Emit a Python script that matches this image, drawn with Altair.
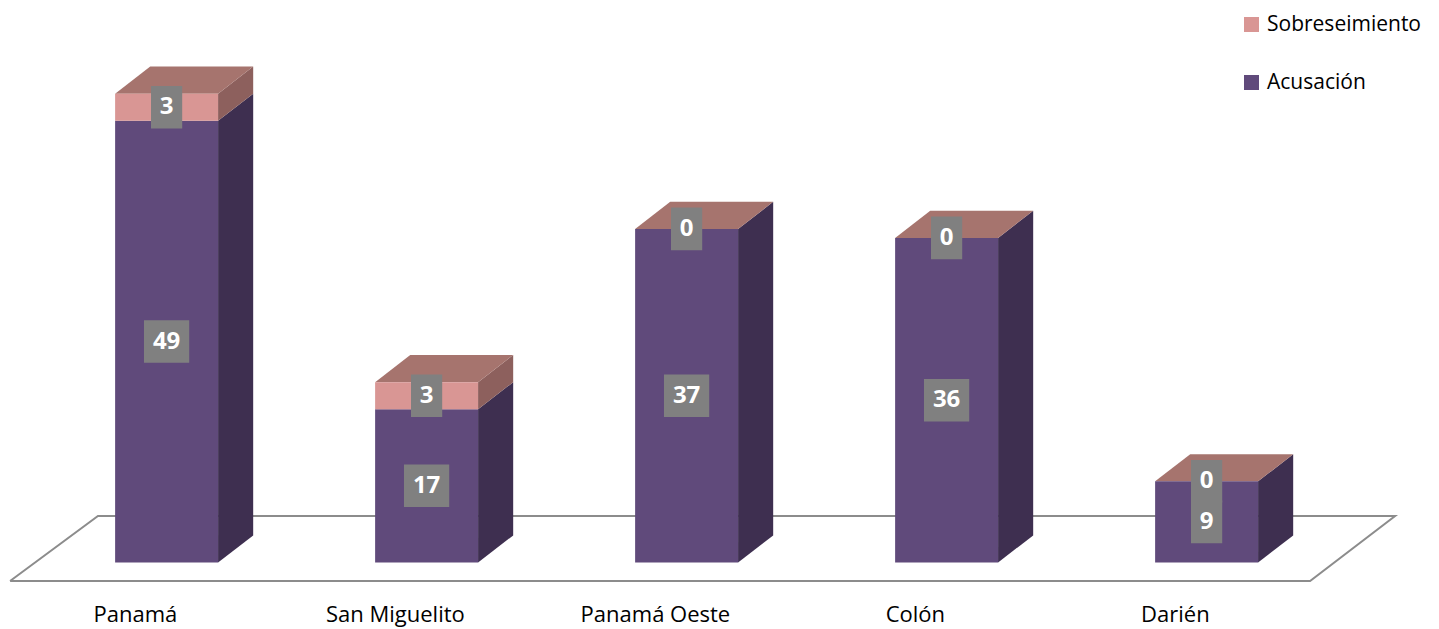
import altair as alt
import pandas as pd

# ---- data ----
categories = ["Panamá", "San Miguelito", "Panamá Oeste", "Colón", "Darién"]
acusacion = [49, 17, 37, 36, 9]
sobreseimiento = [3, 3, 0, 0, 0]
series_order = ["Sobreseimiento", "Acusación"]

# ---- style constants ----
HW = 0.198          # half bar width (category units)
DX = 0.135          # 3D depth, x (category units)
DY = 3.0            # 3D depth, y (value units)
W, H = 1423, 621
X_DOMAIN = [-0.61, -0.61 + W / 260]
Y_DOMAIN = [-7.38, 61.5]
FONT = "Open Sans"

FRONT = {"Acusación": "#604A7B", "Sobreseimiento": "#D99694"}
SIDE = {"Acusación": "#3E2F50", "Sobreseimiento": "#8D605D"}
TOP = "#A6746E"
FLOOR_COLOR = "#8C8C8C"
BOX = "#808080"

xs = alt.Scale(domain=X_DOMAIN, nice=False, zero=False)
ys = alt.Scale(domain=Y_DOMAIN, nice=False, zero=False)

# segments
seg_rows = []
for i, (c, a, s) in enumerate(zip(categories, acusacion, sobreseimiento)):
    seg_rows.append(dict(i=i, cat=c, series="Acusación", y0=0, y1=a, value=a))
    seg_rows.append(dict(i=i, cat=c, series="Sobreseimiento", y0=a, y1=a + s, value=s))
seg = pd.DataFrame(seg_rows)
seg["xl"] = seg["i"] - HW
seg["xr"] = seg["i"] + HW

# side faces (vertical areas, two x points per segment)
side_rows = []
for r in seg_rows:
    key = f"{r['i']}-{r['series']}"
    side_rows.append(dict(key=key, x=r["i"] + HW, y=r["y0"], y2=r["y1"], col=SIDE[r["series"]]))
    side_rows.append(dict(key=key, x=r["i"] + HW + DX, y=r["y0"] + DY, y2=r["y1"] + DY, col=SIDE[r["series"]]))
side = pd.DataFrame(side_rows)

# top faces (horizontal areas)
top_rows = []
for i, (a, s) in enumerate(zip(acusacion, sobreseimiento)):
    t = a + s
    top_rows.append(dict(key=i, y=t, x=i - HW, x2=i + HW))
    top_rows.append(dict(key=i, y=t + DY, x=i - HW + DX, x2=i + HW + DX))
top = pd.DataFrame(top_rows)

# floor outline (derived from category extent)
n = len(categories)
floor = pd.DataFrame([
    dict(o=0, x=-0.602, y=-2.06),
    dict(o=1, x=-0.264, y=5.15),
    dict(o=2, x=(n - 1) + 0.725, y=5.15),
    dict(o=3, x=(n - 1) + 0.398, y=-2.06),
    dict(o=4, x=-0.602, y=-2.06),
])

# value labels
lab = seg.copy()
lab["ly"] = (lab["y0"] + lab["y1"]) / 2
lab["txt"] = lab["value"].astype(str)
lab["hw"] = lab["txt"].str.len().map({1: 0.06, 2: 0.087})
lab["bx0"] = lab["i"] - lab["hw"]
lab["bx1"] = lab["i"] + lab["hw"]
lab["by0"] = lab["ly"] - 2.36
lab["by1"] = lab["ly"] + 2.36

cats = pd.DataFrame(dict(i=range(n), cat=categories))
cats["x"] = cats["i"] - 0.12
cats["y"] = -5.83

floor_l = alt.Chart(floor).mark_line(color=FLOOR_COLOR, strokeWidth=2).encode(
    x=alt.X("x:Q", scale=xs, axis=None), y=alt.Y("y:Q", scale=ys, axis=None), order="o:Q")

side_l = alt.Chart(side).mark_area(orient="vertical").encode(
    x=alt.X("x:Q", scale=xs, axis=None), y=alt.Y("y:Q", scale=ys, axis=None), y2="y2:Q",
    detail="key:N", color=alt.Color("col:N", scale=None))

top_l = alt.Chart(top).mark_area(orient="horizontal", color=TOP).encode(
    y=alt.Y("y:Q", scale=ys, axis=None), x=alt.X("x:Q", scale=xs, axis=None), x2="x2:Q",
    detail="key:N")

front_l = alt.Chart(seg).mark_rect().encode(
    x=alt.X("xl:Q", scale=xs, axis=None), x2="xr:Q",
    y=alt.Y("y0:Q", scale=ys, axis=None), y2="y1:Q",
    color=alt.Color("series:N", sort=series_order,
                    scale=alt.Scale(domain=series_order,
                                    range=[FRONT["Sobreseimiento"], FRONT["Acusación"]]),
                    legend=alt.Legend(title=None, orient="none", legendX=1233, legendY=6,
                                      symbolType="square", symbolSize=225,
                                      symbolStrokeWidth=0, labelFontSize=21,
                                      labelFont=FONT, labelColor="#000000",
                                      labelLimit=400,
                                      rowPadding=36, labelOffset=5)))

box_l = alt.Chart(lab).mark_rect(color=BOX).encode(
    x=alt.X("bx0:Q", scale=xs, axis=None), x2="bx1:Q",
    y=alt.Y("by0:Q", scale=ys, axis=None), y2="by1:Q")

txt_l = alt.Chart(lab).mark_text(color="white", fontWeight="bold", fontSize=24,
                                 font=FONT, baseline="middle", align="center").encode(
    x=alt.X("i:Q", scale=xs, axis=None), y=alt.Y("ly:Q", scale=ys, axis=None), text="txt:N")

cat_l = alt.Chart(cats).mark_text(fontSize=22, font=FONT, color="#000000",
                                  baseline="middle", align="center").encode(
    x=alt.X("x:Q", scale=xs, axis=None), y=alt.Y("y:Q", scale=ys, axis=None), text="cat:N")

chart = alt.layer(floor_l, side_l, top_l, front_l, box_l, txt_l, cat_l).properties(
    width=W, height=H, autosize=alt.AutoSizeParams(type="none"), padding=0
).configure_view(stroke=None)

chart.save("out.html", embed_options={"renderer": "svg", "actions": False})
